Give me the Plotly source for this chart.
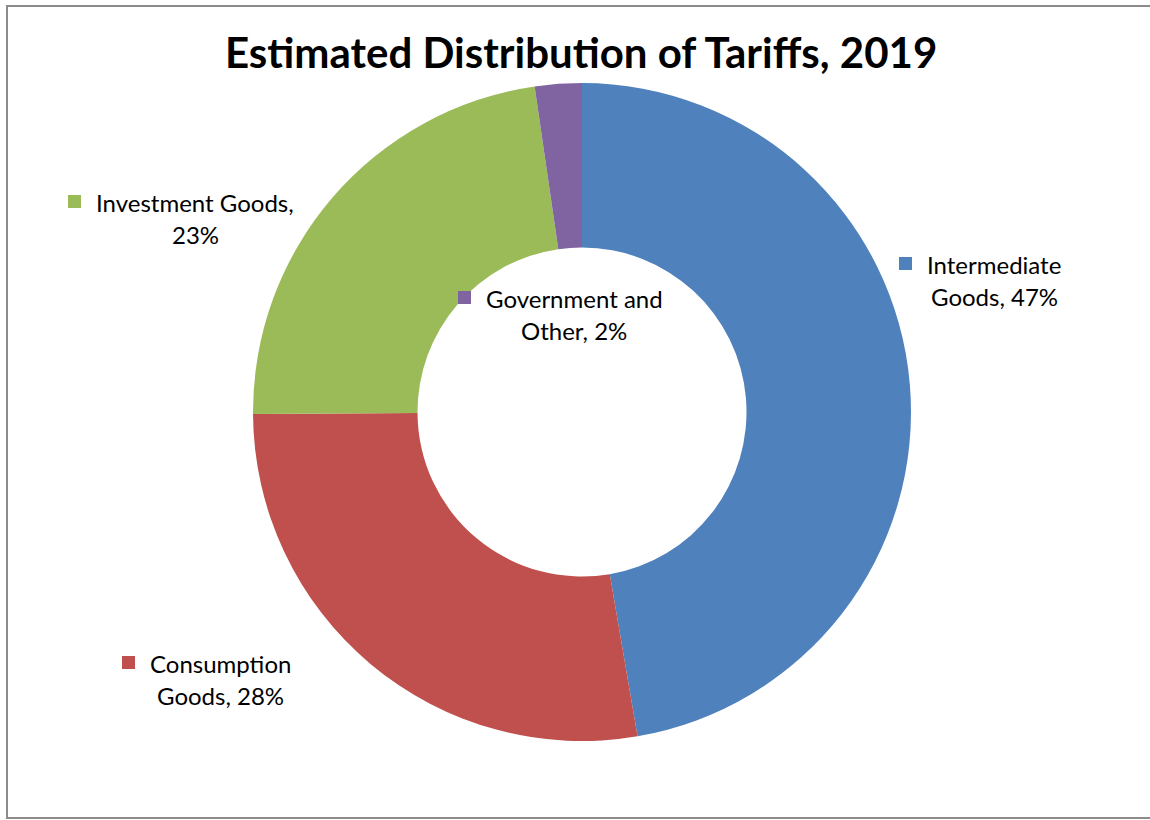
import plotly.graph_objects as go

W, H = 1150, 820

categories = ["Intermediate Goods", "Consumption Goods", "Investment Goods", "Government and Other"]
shares = [47.3, 27.6, 22.8, 2.3]
label_lines = [
    ["Intermediate", "Goods, 47%"],
    ["Consumption", "Goods, 28%"],
    ["Investment Goods,", "23%"],
    ["Government and", "Other, 2%"],
]
colors = ["#4F81BD", "#C0504D", "#9BBB59", "#8064A2"]

# label layout in pixels: (text center x, first line center y, square left x)
label_pos = [
    (994, 264, 899),
    (220, 663, 122),
    (195, 202, 68),
    (574, 298, 458),
]
LINE_GAP = 32
FONT = "Lato, 'Open Sans', sans-serif"

def px(x):
    return x / W

def py(y):
    return 1 - y / H

fig = go.Figure(go.Pie(
    labels=categories,
    values=shares,
    hole=0.5,
    sort=False,
    direction="clockwise",
    rotation=0,
    marker=dict(colors=colors, line=dict(width=0)),
    textinfo="none",
    hoverinfo="label+percent",
    domain=dict(x=[px(253), px(911)], y=[py(741), py(83)]),
    showlegend=False,
))

annotations = [dict(
    text="<b>Estimated Distribution of Tariffs, 2019</b>",
    x=px(581), y=py(52), xref="paper", yref="paper",
    xanchor="center", yanchor="middle", showarrow=False,
    font=dict(family=FONT, size=42, color="#000000"),
)]
shapes = [dict(
    type="rect", xref="paper", yref="paper",
    x0=px(7), x1=px(1160), y0=py(818), y1=py(6),
    line=dict(color="#8C8C8C", width=2), fillcolor="rgba(0,0,0,0)",
)]

for lines, (cx, cy, sx), col in zip(label_lines, label_pos, colors):
    for i, ln in enumerate(lines):
        annotations.append(dict(
            text=ln, x=px(cx), y=py(cy + i * LINE_GAP), xref="paper", yref="paper",
            xanchor="center", yanchor="middle", showarrow=False,
            font=dict(family=FONT, size=24, color="#000000"),
        ))
    shapes.append(dict(
        type="rect", xref="paper", yref="paper",
        x0=px(sx), x1=px(sx + 13), y0=py(cy + 6), y1=py(cy - 7),
        line=dict(width=0), fillcolor=col,
    ))

fig.update_layout(
    width=W, height=H,
    margin=dict(l=0, r=0, t=0, b=0),
    paper_bgcolor="white",
    plot_bgcolor="white",
    annotations=annotations,
    shapes=shapes,
)

fig.write_html("out.html")
